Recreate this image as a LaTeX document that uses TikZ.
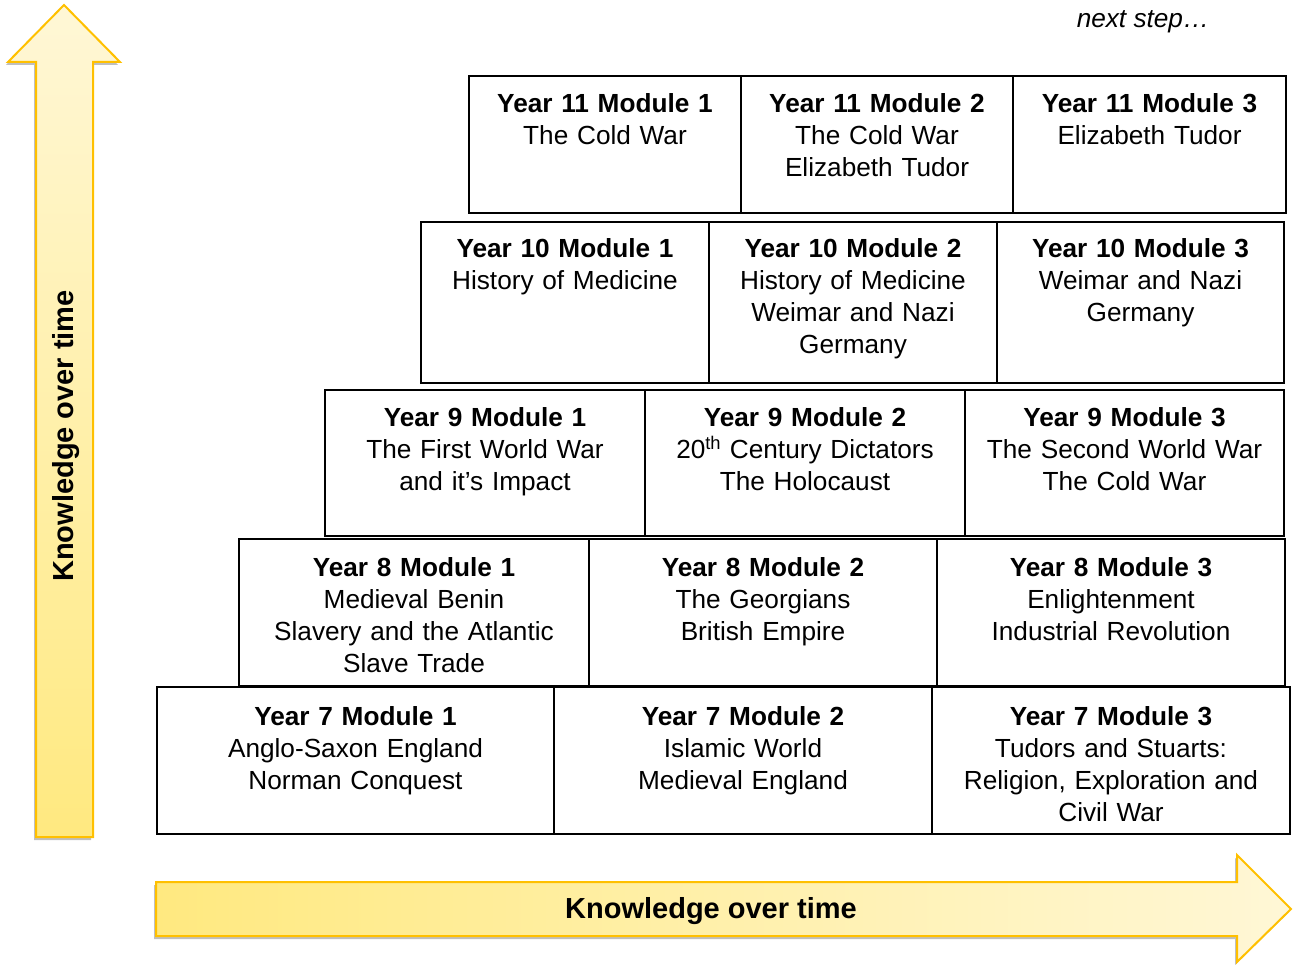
\documentclass[tikz,border=0pt]{standalone}
\usepackage{fontspec}
\setmainfont{Liberation Sans}
\usepackage{xcolor}
\usetikzlibrary{shadows}

\definecolor{arrowedge}{RGB}{255,192,0}
\definecolor{arrowdark}{RGB}{255,233,128}
\definecolor{arrowlight}{RGB}{255,247,214}

\begin{document}
\begin{tikzpicture}[x=1pt,y=-1pt,
  modbox/.style={draw=black,line width=2.3pt},
  modtext/.style={anchor=base,align=center,text width=300pt,inner sep=0pt,
    font=\fontsize{26.2}{32}\selectfont},
  knowarrow/.style={draw=arrowedge,line width=2pt,line join=miter,
    drop shadow={shadow xshift=-2pt,shadow yshift=-3pt,opacity=0.25,fill=black}},
  knowlabel/.style={font=\bfseries\fontsize{29}{35}\selectfont}]
\useasboundingbox (0,0) rectangle (1296,965);

% arrows
\path[knowarrow,bottom color=arrowdark,top color=arrowlight]
  (64,5) -- (120,62) -- (93,62) -- (93,837) -- (36,837) -- (36,62) -- (8,62) -- cycle;
\path[knowarrow,left color=arrowdark,right color=arrowlight]
  (156,882) -- (1237,882) -- (1237,855) -- (1291,909) -- (1237,962) -- (1237,936) -- (156,936) -- cycle;
\node[knowlabel,rotate=90] (knowup) at (66,436) {Knowledge over time};
\node[knowlabel] (knowright) at (711,911) {Knowledge over time};

\node[font=\itshape\fontsize{26.2}{32}\selectfont] (nextstep) at (1143,22) {next step…};

% year 11
\draw[modbox] (469,76) rectangle (741,213);
\draw[modbox] (741,76) rectangle (1013,213);
\draw[modbox] (1013,76) rectangle (1286,213);
\node[modtext] (y11a) at (605,113) {\textbf{Year 11 Module 1}\\The Cold War};
\node[modtext] (y11b) at (877,113) {\textbf{Year 11 Module 2}\\The Cold War\\Elizabeth Tudor};
\node[modtext] (y11c) at (1149.5,113) {\textbf{Year 11 Module 3}\\Elizabeth Tudor};

% year 10
\draw[modbox] (421,222) rectangle (709,383);
\draw[modbox] (709,222) rectangle (997,383);
\draw[modbox] (997,222) rectangle (1284,383);
\node[modtext] (y10a) at (565,258) {\textbf{Year 10 Module 1}\\History of Medicine};
\node[modtext] (y10b) at (853,258) {\textbf{Year 10 Module 2}\\History of Medicine\\Weimar and Nazi\\Germany};
\node[modtext] (y10c) at (1140.5,258) {\textbf{Year 10 Module 3}\\Weimar and Nazi\\Germany};

% year 9
\draw[modbox] (325,390) rectangle (645,536);
\draw[modbox] (645,390) rectangle (965,536);
\draw[modbox] (965,390) rectangle (1284,536);
\node[modtext] (y9a) at (485,427) {\textbf{Year 9 Module 1}\\The First World War\\and it’s Impact};
\node[modtext] (y9b) at (805,427) {\textbf{Year 9 Module 2}\\20\textsuperscript{th} Century Dictators\\The Holocaust};
\node[modtext] (y9c) at (1124.5,427) {\textbf{Year 9 Module 3}\\The Second World War\\The Cold War};

% year 8
\draw[modbox] (239,539) rectangle (589,686);
\draw[modbox] (589,539) rectangle (937,686);
\draw[modbox] (937,539) rectangle (1285,686);
\node[modtext] (y8a) at (414,576) {\textbf{Year 8 Module 1}\\Medieval Benin\\Slavery and the Atlantic\\Slave Trade};
\node[modtext] (y8b) at (763,576) {\textbf{Year 8 Module 2}\\The Georgians\\British Empire};
\node[modtext] (y8c) at (1111,576) {\textbf{Year 8 Module 3}\\Enlightenment\\Industrial Revolution};

% year 7
\draw[modbox] (157,687) rectangle (554,834);
\draw[modbox] (554,687) rectangle (932,834);
\draw[modbox] (932,687) rectangle (1290,834);
\node[modtext] (y7a) at (355.5,725) {\textbf{Year 7 Module 1}\\Anglo-Saxon England\\Norman Conquest};
\node[modtext] (y7b) at (743,725) {\textbf{Year 7 Module 2}\\Islamic World\\Medieval England};
\node[modtext] (y7c) at (1111,725) {\textbf{Year 7 Module 3}\\Tudors and Stuarts:\\Religion, Exploration and\\Civil War};

\end{tikzpicture}
\end{document}
